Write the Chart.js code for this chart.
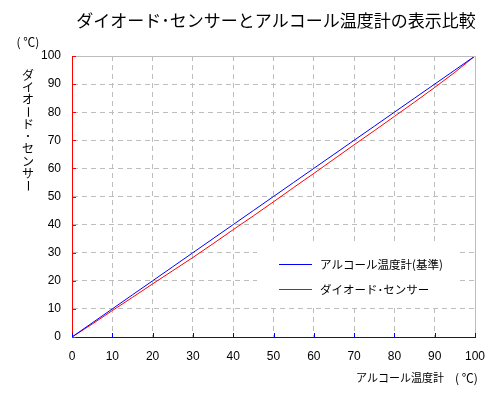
<!DOCTYPE html>
<html>
<head>
<meta charset="utf-8">
<script src="https://cdn.jsdelivr.net/npm/chart.js@4"></script>
<style>
  html, body { margin: 0; padding: 0; background: #fff; }
  #wrap { width: 504px; height: 393px; }
</style>
</head>
<body>
<div id="wrap"><canvas id="chart" width="504" height="393"></canvas></div>
<script>
const titleText = "ダイオード･センサーとアルコール温度計の表示比較";
const xTitle = "アルコール温度計";
const yTitle = "ダイオード･センサー";
const unitText = "( ℃)";
const seriesNames = ["アルコール温度計(基準)", "ダイオード･センサー"];

const alcohol = [0, 5, 10, 15, 20, 25, 30, 35, 40, 45, 50, 55, 60, 65, 70, 75, 80, 85, 90, 95, 100];
const reference = [0, 5, 10, 15, 20, 25, 30, 35, 40, 45, 50, 55, 60, 65, 70, 75, 80, 85, 90, 95, 100];
const diode = [0, 4.6, 9.4, 14.1, 18.9, 23.6, 28.3, 33.2, 38.2, 43.1, 48.1, 53.2, 58.2, 63.3, 68.4, 73.4, 78.5, 83.6, 88.8, 94.2, 100];
const tickStep = 10;

const jpFont = '"Noto Sans CJK JP", sans-serif';
const numFont = '"Liberation Sans", Arial, sans-serif';

const decorations = {
  id: 'decorations',
  afterDatasetsDraw(chart) {
    const ctx = chart.ctx;
    const a = chart.chartArea;
    const xs = chart.scales.x, ys = chart.scales.y;
    ctx.save();

    // solid top/right frame
    ctx.strokeStyle = '#bdbdbd';
    ctx.lineWidth = 1;
    ctx.beginPath();
    ctx.moveTo(a.left, a.top + 0.5);
    ctx.lineTo(a.right + 0.5, a.top + 0.5);
    ctx.lineTo(a.right + 0.5, a.bottom);
    ctx.stroke();

    // inward tick marks
    ctx.strokeStyle = '#0000ff';
    xs.ticks.forEach(t => {
      const px = Math.round(xs.getPixelForValue(t.value)) + 0.5;
      ctx.beginPath();
      ctx.moveTo(px, a.bottom);
      ctx.lineTo(px, a.bottom - 4);
      ctx.stroke();
    });
    ctx.strokeStyle = '#ff0000';
    ys.ticks.forEach(t => {
      const py = Math.round(ys.getPixelForValue(t.value)) + 0.5;
      ctx.beginPath();
      ctx.moveTo(a.left, py);
      ctx.lineTo(a.left + 4, py);
      ctx.stroke();
    });

    // legend box
    ctx.fillStyle = '#ffffff';
    ctx.fillRect(257, 243, 200, 65);
    const colors = ['#0000ff', '#ff0000'];
    ctx.font = '11.5px ' + jpFont;
    ctx.textBaseline = 'middle';
    ctx.textAlign = 'left';
    [264.5, 289.5].forEach((y, i) => {
      ctx.strokeStyle = colors[i];
      ctx.beginPath();
      ctx.moveTo(279, y);
      ctx.lineTo(312, y);
      ctx.stroke();
      ctx.fillStyle = '#000';
      ctx.fillText(seriesNames[i], 320, y);
    });

    // title
    ctx.fillStyle = '#000';
    ctx.font = '17px ' + jpFont;
    ctx.textAlign = 'center';
    ctx.fillText(titleText, 276, 21);

    // unit on y axis
    ctx.font = '12px ' + jpFont;
    ctx.fillText(unitText, 28, 42);

    // vertical y-axis title
    const chars = Array.from(yTitle);
    chars.forEach((c, i) => {
      const cy = 75 + i * 12.3;
      if (c === 'ー') {
        ctx.save();
        ctx.translate(28, cy);
        ctx.rotate(Math.PI / 2);
        ctx.fillText(c, 0, 0);
        ctx.restore();
      } else {
        ctx.fillText(c, 28, cy);
      }
    });

    // x-axis title
    ctx.textAlign = 'left';
    ctx.font = '11px ' + jpFont;
    ctx.fillText(xTitle, 356, 378);
    ctx.font = '12px ' + jpFont;
    ctx.fillText(unitText, 455, 378);

    ctx.restore();
  }
};

new Chart(document.getElementById('chart'), {
  type: 'line',
  data: {
    labels: alcohol,
    datasets: [
      {
        label: seriesNames[0],
        data: alcohol.map((x, i) => ({ x: x, y: reference[i] })),
        borderColor: '#0000ff',
        borderWidth: 1,
        pointRadius: 0,
        tension: 0
      },
      {
        label: seriesNames[1],
        data: alcohol.map((x, i) => ({ x: x, y: diode[i] })),
        borderColor: '#ff0000',
        borderWidth: 1,
        pointRadius: 0,
        tension: 0
      }
    ]
  },
  options: {
    responsive: false,
    animation: false,
    layout: { padding: { left: 0, right: 29, top: 56, bottom: 0 } },
    plugins: {
      legend: { display: false },
      title: { display: false },
      tooltip: { enabled: false }
    },
    scales: {
      x: {
        type: 'linear',
        min: 0,
        max: 100,
        ticks: { stepSize: tickStep, color: '#000', padding: 12, font: { family: numFont, size: 12 } },
        grid: { color: '#bdbdbd', drawTicks: false },
        border: { color: '#0000ff', width: 1, dash: [5, 4] },
        afterFit: s => { s.height = 56; }
      },
      y: {
        min: 0,
        max: 100,
        ticks: { stepSize: tickStep, color: '#000', padding: 11, font: { family: numFont, size: 12 } },
        grid: { color: '#bdbdbd', drawTicks: false },
        border: { color: '#ff0000', width: 1, dash: [5, 4] },
        afterFit: s => { s.width = 72; }
      }
    }
  },
  plugins: [decorations]
});
</script>
</body>
</html>
